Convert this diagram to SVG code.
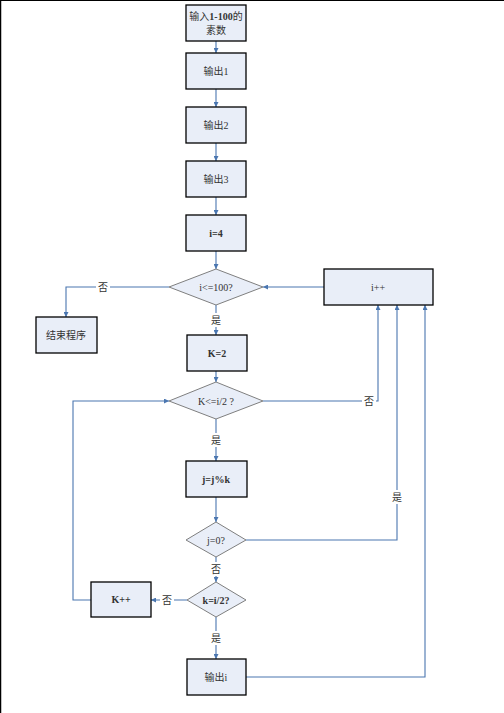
<svg xmlns="http://www.w3.org/2000/svg" width="504" height="713" viewBox="0 0 504 713">
<style>
.box{fill:#e9eef8;stroke:#000;stroke-width:1.3}
.dia{fill:#e9eef8;stroke:#7f7f7f;stroke-width:1}
.t{font-family:"Liberation Serif","Noto Sans CJK SC",serif;font-size:10px;fill:#333;text-anchor:middle;dominant-baseline:central}
.b{font-weight:bold}
.c{fill:none;stroke:#4a76b0;stroke-width:1.1;marker-end:url(#ah)}
.n{fill:none;stroke:#4a76b0;stroke-width:1.1}
.lb{fill:#fff}
</style>
<defs>
<marker id="ah" viewBox="0 0 8 8" refX="8" refY="4" markerWidth="5" markerHeight="5" orient="auto" markerUnits="userSpaceOnUse">
<path d="M0,0 L8,4 L0,8 Z" fill="#4a76b0"/>
</marker>
</defs>
<rect x="0" y="0" width="504" height="713" fill="#fff"/>
<line x1="0.5" y1="0" x2="0.5" y2="713" stroke="#000" stroke-width="1.5"/>
<line x1="0" y1="0.5" x2="504" y2="0.5" stroke="#000" stroke-width="1"/>

<g id="connectors">
<path class="c" d="M216,41 V53"/>
<path class="c" d="M216,89 V107"/>
<path class="c" d="M216,143 V161"/>
<path class="c" d="M216,197 V215"/>
<path class="c" d="M216,251 V269"/>
<path class="c" d="M169,287 H66 V317"/>
<path class="c" d="M216,305 V335"/>
<path class="c" d="M324,287 H263"/>
<path class="c" d="M216,371 V382"/>
<path class="c" d="M263,401 H378 V305"/>
<path class="c" d="M216,419 V461"/>
<path class="c" d="M216,497 V522"/>
<path class="c" d="M246,540 H397 V305"/>
<path class="c" d="M216,557 V582"/>
<path class="c" d="M187,600 H151"/>
<path class="c" d="M91,600 H73 V401 H169"/>
<path class="c" d="M216,617 V659"/>
<path class="c" d="M246,677 H425 V305"/>
<rect class="lb" x="96" y="280" width="14" height="14"/>
<text class="t" x="103" y="287">否</text>
<rect class="lb" x="209" y="313" width="14" height="14"/>
<text class="t" x="216" y="320">是</text>
<rect class="lb" x="362" y="394" width="14" height="14"/>
<text class="t" x="369" y="401">否</text>
<rect class="lb" x="209" y="433" width="14" height="14"/>
<text class="t" x="216" y="440">是</text>
<rect class="lb" x="390" y="490" width="14" height="14"/>
<text class="t" x="397" y="497">是</text>
<rect class="lb" x="209" y="562" width="14" height="14"/>
<text class="t" x="216" y="569">否</text>
<rect class="lb" x="160" y="593" width="14" height="14"/>
<text class="t" x="167" y="600">否</text>
<rect class="lb" x="209" y="631" width="14" height="14"/>
<text class="t" x="216" y="638">是</text>
</g>

<g id="n_input">
<rect class="box" x="186" y="5" width="60" height="36"/>
<text class="t" x="216" y="16">输入<tspan class="b">1-100</tspan>的</text>
<text class="t" x="216" y="30">素数</text>
</g>
<g id="n_out1"><rect class="box" x="186" y="53" width="60" height="36"/><text class="t" x="216" y="71">输出1</text></g>
<g id="n_out2"><rect class="box" x="186" y="107" width="60" height="36"/><text class="t" x="216" y="125">输出2</text></g>
<g id="n_out3"><rect class="box" x="186" y="161" width="60" height="36"/><text class="t" x="216" y="179">输出3</text></g>
<g id="n_i4"><rect class="box" x="186" y="215" width="60" height="36"/><text class="t b" x="216" y="233">i=4</text></g>
<g id="n_cond1"><polygon class="dia" points="169,287 216,269 263,287 216,305"/><text class="t" x="216" y="287">i&lt;=100?</text></g>
<g id="n_end"><rect class="box" x="36" y="317" width="61" height="36"/><text class="t" x="66" y="335">结束程序</text></g>
<g id="n_inc_i"><rect class="box" x="324" y="269" width="109" height="36"/><text class="t" x="378" y="287">i++</text></g>
<g id="n_k2"><rect class="box" x="187" y="335" width="60" height="36"/><text class="t b" x="217" y="353">K=2</text></g>
<g id="n_cond2"><polygon class="dia" points="169,401 216,382 263,401 216,419"/><text class="t" x="216" y="401">K&lt;=i/2 ?</text></g>
<g id="n_mod"><rect class="box" x="186" y="461" width="61" height="36"/><text class="t b" x="216" y="479">j=j%k</text></g>
<g id="n_cond3"><polygon class="dia" points="186,540 216,522 246,540 216,557"/><text class="t" x="216" y="540">j=0?</text></g>
<g id="n_cond4"><polygon class="dia" points="187,600 216,582 246,600 216,617"/><text class="t b" x="216" y="600">k=i/2?</text></g>
<g id="n_kinc"><rect class="box" x="91" y="582" width="60" height="35"/><text class="t b" x="121" y="599">K++</text></g>
<g id="n_outi"><rect class="box" x="187" y="659" width="59" height="36"/><text class="t" x="216" y="677">输出i</text></g>
</svg>
